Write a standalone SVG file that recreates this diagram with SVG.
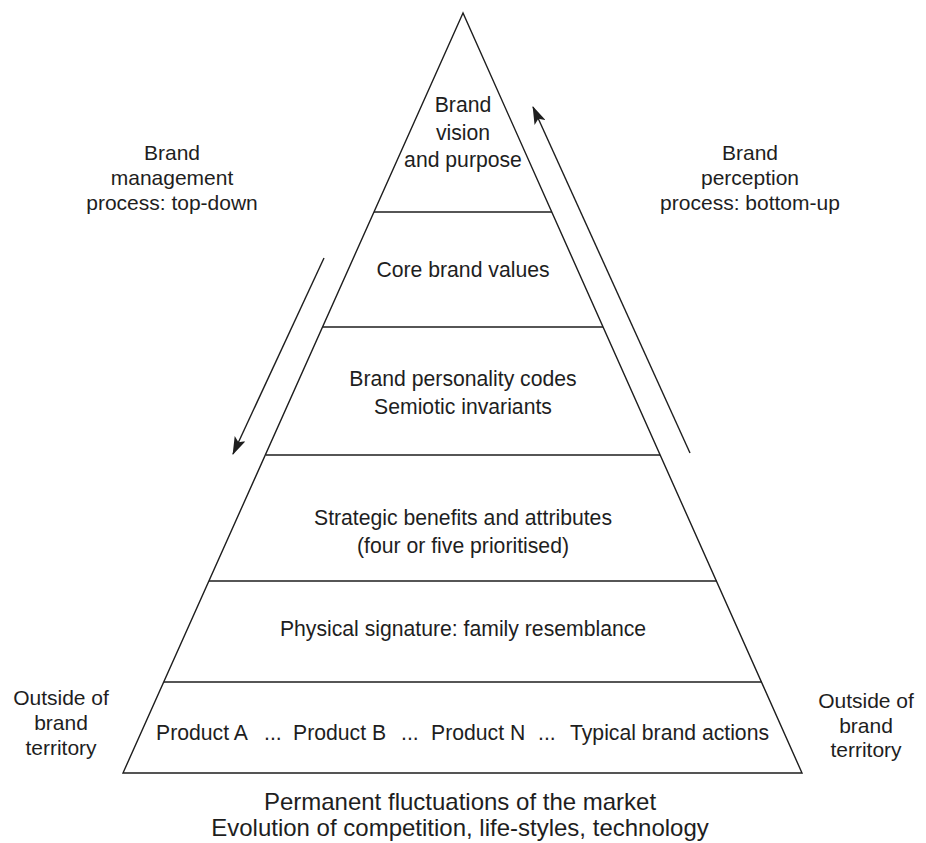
<svg xmlns="http://www.w3.org/2000/svg" width="926" height="843" viewBox="0 0 926 843">
<style>
text{font-family:"Liberation Sans",Arial,sans-serif;fill:#1e1e1e;text-anchor:middle;font-size:21.2px}
.s{text-anchor:start}
.side{font-size:21px}
.bot{font-size:24px}
.ln{stroke:#1e1e1e;stroke-width:1.4;fill:none}
.arr{stroke:#1e1e1e;stroke-width:1.4;fill:none;marker-end:url(#ah)}
</style>
<defs>
<marker id="ah" viewBox="0 0 18 12" refX="17" refY="6" markerWidth="18" markerHeight="12" markerUnits="userSpaceOnUse" orient="auto">
<path d="M0,0 L18,6 L0,12 L4,6 Z" fill="#1e1e1e"/>
</marker>
</defs>
<rect width="926" height="843" fill="#ffffff"/>
<g id="pyramid">
<polygon class="ln" points="463,13 123,773 802,773" stroke-linejoin="miter"/>
<line class="ln" x1="374" y1="212" x2="552" y2="212"/>
<line class="ln" x1="323" y1="327" x2="603" y2="327"/>
<line class="ln" x1="266" y1="455" x2="660" y2="455"/>
<line class="ln" x1="209" y1="581" x2="717" y2="581"/>
<line class="ln" x1="164" y1="682" x2="762" y2="682"/>
</g>
<g id="layer-vision">
<text x="463" y="112">Brand</text>
<text x="463" y="140">vision</text>
<text x="463" y="167">and purpose</text>
</g>
<g id="layer-values">
<text x="463" y="277">Core brand values</text>
</g>
<g id="layer-personality">
<text x="463" y="386">Brand personality codes</text>
<text x="463" y="414">Semiotic invariants</text>
</g>
<g id="layer-benefits">
<text x="463" y="525">Strategic benefits and attributes</text>
<text x="463" y="553">(four or five prioritised)</text>
</g>
<g id="layer-signature">
<text x="463" y="636">Physical signature: family resemblance</text>
</g>
<g id="layer-products">
<text class="s" x="156" y="740">Product A</text>
<text class="s" x="264" y="740">...</text>
<text class="s" x="293" y="740">Product B</text>
<text class="s" x="401" y="740">...</text>
<text class="s" x="431" y="740">Product N</text>
<text class="s" x="538" y="740">...</text>
<text class="s" x="570" y="740">Typical brand actions</text>
</g>
<g id="label-management">
<text class="side" x="172" y="160">Brand</text>
<text class="side" x="172" y="185">management</text>
<text class="side" x="172" y="210">process: top-down</text>
</g>
<g id="label-perception">
<text class="side" x="750" y="160">Brand</text>
<text class="side" x="750" y="185">perception</text>
<text class="side" x="750" y="210">process: bottom-up</text>
</g>
<g id="outside-left">
<text class="side" x="61" y="705">Outside of</text>
<text class="side" x="61" y="730">brand</text>
<text class="side" x="61" y="755">territory</text>
</g>
<g id="outside-right">
<text class="side" x="866" y="708">Outside of</text>
<text class="side" x="866" y="733">brand</text>
<text class="side" x="866" y="757">territory</text>
</g>
<g id="market">
<text class="bot" x="460" y="810">Permanent fluctuations of the market</text>
<text class="bot" x="460" y="836">Evolution of competition, life-styles, technology</text>
</g>
<g id="connectors">
<line class="arr" x1="324" y1="258" x2="233" y2="454"/>
<line class="arr" x1="690" y1="453" x2="533" y2="107"/>
</g>
</svg>
